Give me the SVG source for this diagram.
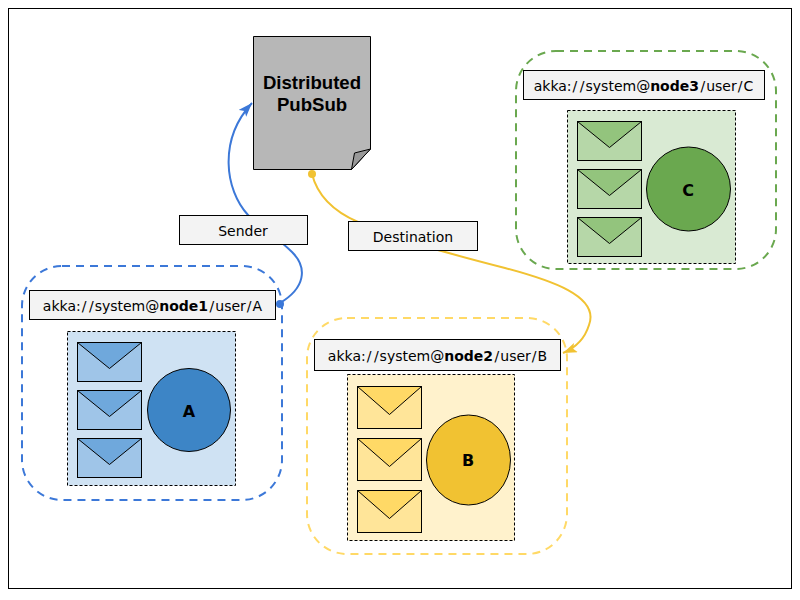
<svg xmlns="http://www.w3.org/2000/svg" width="800" height="600" viewBox="0 0 800 600">
<style>
text{font-family:"DejaVu Sans",Verdana,sans-serif;font-size:14px;fill:#000;text-anchor:middle}
.b{font-weight:bold}
.big{font-size:16px;font-weight:bold}
.doc{font-family:"Liberation Sans",Arial,sans-serif;font-size:18.6px;font-weight:bold}
.lab{fill:#f3f3f3;stroke:#000;stroke-width:1}
.inner{stroke:#000;stroke-width:1;stroke-dasharray:3 2}
.grp{fill:none;stroke-width:2;stroke-dasharray:8 6}
.env{stroke:#000;stroke-width:1}
.ln{fill:none;stroke-width:2}
</style>
<defs>
<marker id="ab" markerUnits="userSpaceOnUse" markerWidth="16" markerHeight="12" refX="14" refY="5" orient="auto"><path d="M0 0L14 5L0 10L3 5Z" fill="#3c78d8"/></marker>
<marker id="ay" markerUnits="userSpaceOnUse" markerWidth="16" markerHeight="12" refX="14" refY="5" orient="auto"><path d="M0 0L14 5L0 10L3 5Z" fill="#f1c232"/></marker>
</defs>
<rect x="8.5" y="8.5" width="783" height="580" fill="#fff" stroke="#000"/>
<g id="connectors">
<path class="ln" stroke="#3c78d8" marker-end="url(#ab)" d="M280 303C305 288 308 268 292 252C275 235 262 230 248 215C225 190 218 140 252 103"/>
<circle cx="280" cy="304" r="4" fill="#3c78d8"/>
<path class="ln" stroke="#f1c232" marker-end="url(#ay)" d="M312 174C318 198 335 212 358 222C385 236 450 254 505 268C550 280 600 296 589 325C585 338 575 348 563 353"/>
<circle cx="312" cy="174" r="4" fill="#f1c232"/>
</g>
<g id="pubsub">
<path d="M253.5 36.5H370.5V149L351.5 169.5H253.5Z" fill="#b7b7b7" stroke="#000"/>
<path d="M351.5 169.5L354.5 153L370.5 149Z" fill="#999" stroke="#000"/>
<text x="312" y="89" class="doc">Distributed</text>
<text x="312" y="111" class="doc">PubSub</text>
</g>
<g id="sender"><rect class="lab" x="179.5" y="215.5" width="128" height="29"/><text x="243" y="236">Sender</text></g>
<g id="destination"><rect class="lab" x="348.5" y="221.5" width="129" height="29"/><text x="413" y="242">Destination</text></g>
<g id="nodeA">
<rect class="grp" x="22" y="266" width="260" height="234" rx="40" stroke="#3c78d8"/>
<rect class="lab" x="29.5" y="290.5" width="246" height="29"/>
<text x="152.5" y="311">akka:<tspan dx="1">/</tspan><tspan dx="2.5">/</tspan><tspan dx="1">system@</tspan><tspan class="b">node1</tspan><tspan dx="1.5">/</tspan><tspan dx="1">user</tspan><tspan dx="1">/</tspan><tspan dx="1">A</tspan></text>
<rect class="inner" x="67.5" y="331.5" width="168" height="154" fill="#cfe2f3"/>
<g class="env" fill="#9fc5e8">
<rect x="77.5" y="342.5" width="64" height="39"/><path d="M77.5 342.5H141.5L109.5 368.5Z" fill="#6fa8dc"/>
<rect x="77.5" y="390.5" width="64" height="39"/><path d="M77.5 390.5H141.5L109.5 416.5Z" fill="#6fa8dc"/>
<rect x="77.5" y="438.5" width="64" height="39"/><path d="M77.5 438.5H141.5L109.5 464.5Z" fill="#6fa8dc"/>
</g>
<circle cx="189" cy="410" r="41.5" fill="#3d85c6" stroke="#000"/>
<text x="189" y="417" class="big">A</text>
</g>
<g id="nodeB">
<rect class="grp" x="307" y="318" width="260" height="236" rx="40" stroke="#ffd966"/>
<rect class="lab" x="314.5" y="339.5" width="246" height="31"/>
<text x="437.5" y="361">akka:<tspan dx="1">/</tspan><tspan dx="2.5">/</tspan><tspan dx="1">system@</tspan><tspan class="b">node2</tspan><tspan dx="1.5">/</tspan><tspan dx="1">user</tspan><tspan dx="1">/</tspan><tspan dx="1">B</tspan></text>
<rect class="inner" x="347.5" y="374.5" width="167" height="166" fill="#fff2cc"/>
<g class="env" fill="#ffe599">
<rect x="357.5" y="386.5" width="64" height="42"/><path d="M357.5 386.5H421.5L389.5 414.5Z" fill="#ffd966"/>
<rect x="357.5" y="438.5" width="64" height="42"/><path d="M357.5 438.5H421.5L389.5 466.5Z" fill="#ffd966"/>
<rect x="357.5" y="490.5" width="64" height="42"/><path d="M357.5 490.5H421.5L389.5 518.5Z" fill="#ffd966"/>
</g>
<ellipse cx="468.5" cy="460" rx="42" ry="45" fill="#f1c232" stroke="#000"/>
<text x="468" y="466" class="big">B</text>
</g>
<g id="nodeC">
<rect class="grp" x="516" y="51" width="260" height="218" rx="40" stroke="#6aa84f"/>
<rect class="lab" x="523.5" y="70.5" width="241" height="29"/>
<text x="643.5" y="91">akka:<tspan dx="1">/</tspan><tspan dx="2.5">/</tspan><tspan dx="1">system@</tspan><tspan class="b">node3</tspan><tspan dx="1.5">/</tspan><tspan dx="1">user</tspan><tspan dx="1">/</tspan><tspan dx="1">C</tspan></text>
<rect class="inner" x="567.5" y="110.5" width="168" height="153" fill="#d9ead3"/>
<g class="env" fill="#b6d7a8">
<rect x="577.5" y="121.5" width="64" height="39"/><path d="M577.5 121.5H641.5L609.5 147.5Z" fill="#93c47d"/>
<rect x="577.5" y="169.5" width="64" height="39"/><path d="M577.5 169.5H641.5L609.5 195.5Z" fill="#93c47d"/>
<rect x="577.5" y="217.5" width="64" height="39"/><path d="M577.5 217.5H641.5L609.5 243.5Z" fill="#93c47d"/>
</g>
<circle cx="688.5" cy="189" r="42" fill="#6aa84f" stroke="#000"/>
<text x="688" y="196" class="big">C</text>
</g>
</svg>
